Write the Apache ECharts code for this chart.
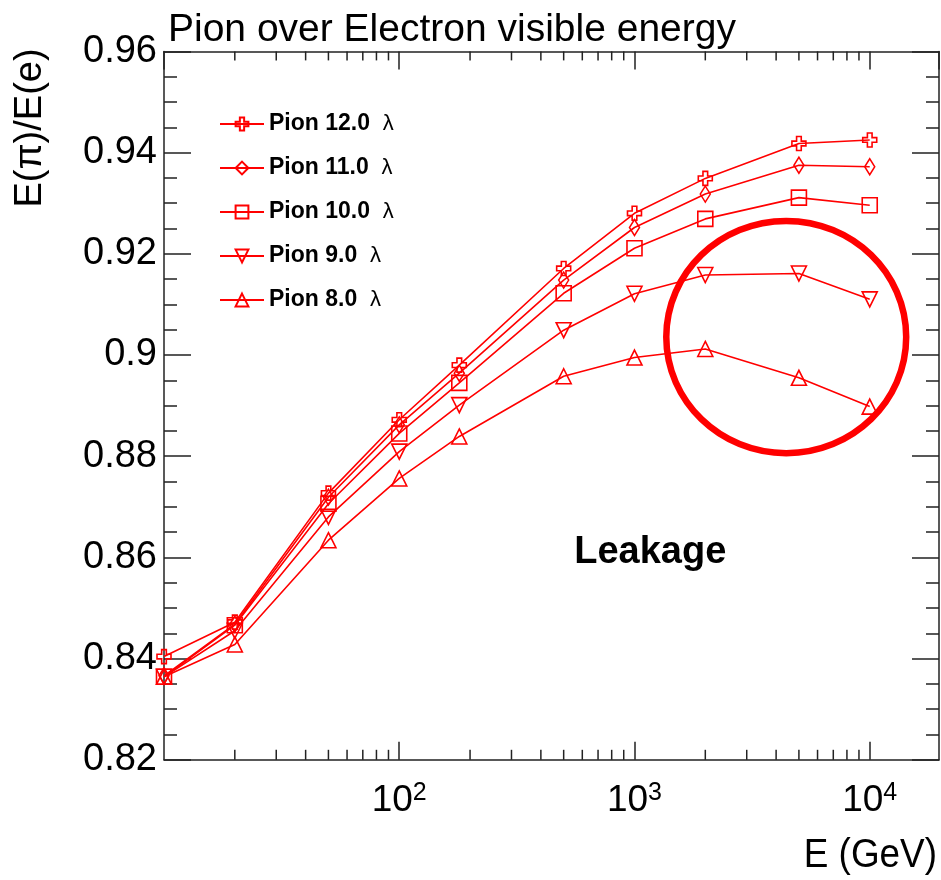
<!DOCTYPE html>
<html>
<head>
<meta charset="utf-8">
<script src="https://cdn.jsdelivr.net/npm/echarts@6/dist/echarts.min.js"></script>
<style>
html,body{margin:0;padding:0;background:#fff;}
#c{width:941px;height:880px;}
</style>
</head>
<body>
<div id="c"></div>
<script>
// ---- data ----
var energies = [10, 20, 50, 100, 180, 500, 1000, 2000, 5000, 10000];
var pion12 = [0.8404, 0.8472, 0.8727, 0.8872, 0.8980, 0.9171, 0.9280, 0.9349, 0.9418, 0.9425];
var pion11 = [0.8366, 0.8468, 0.8719, 0.8862, 0.8964, 0.9148, 0.9252, 0.9318, 0.9375, 0.9372];
var pion10 = [0.8364, 0.8466, 0.8706, 0.8845, 0.8945, 0.9122, 0.9211, 0.9269, 0.9311, 0.9296];
var pion9  = [0.8364, 0.8455, 0.8680, 0.8809, 0.8901, 0.9049, 0.9121, 0.9158, 0.9161, 0.9110];
var pion8  = [0.8364, 0.8428, 0.8634, 0.8756, 0.8839, 0.8958, 0.8995, 0.9012, 0.8955, 0.8898];
var seriesNames = ['Pion 12.0 λ', 'Pion 11.0 λ', 'Pion 10.0 λ', 'Pion 9.0 λ', 'Pion 8.0 λ'];
var minorXTicks = [20,30,40,50,60,70,80,90,200,300,400,500,600,700,800,900,2000,3000,4000,5000,6000,7000,8000,9000];

var RED = '#ff0000';
var FONT = 'Liberation Sans, Arial, Helvetica, sans-serif';
var xMin = 10, xMax = 19700, yMin = 0.82, yMax = 0.96;

function pairs(ys) { return energies.map(function (e, i) { return [e, ys[i]]; }); }

var crossPath = 'path://M4,0 H8 V4 H12 V8 H8 V12 H4 V8 H0 V4 H4 Z';
var symbols = [
  {symbol: crossPath, size: 14, rotate: 0},
  {symbol: 'diamond', size: [10, 16], rotate: 0},
  {symbol: 'rect', size: 15, rotate: 0},
  {symbol: 'triangle', size: 15, rotate: 180},
  {symbol: 'triangle', size: 15, rotate: 0}
];
var allData = [pion12, pion11, pion10, pion9, pion8];

var series = allData.map(function (d, i) {
  return {
    name: seriesNames[i],
    type: 'line',
    data: pairs(d),
    symbol: symbols[i].symbol,
    symbolSize: symbols[i].size,
    symbolRotate: symbols[i].rotate,
    showSymbol: true,
    lineStyle: {color: RED, width: 1.6},
    itemStyle: {color: 'rgba(255,255,255,0)', borderColor: RED, borderWidth: 1.6},
    emphasis: {disabled: true},
    animation: false,
    z: 3
  };
});

// minor log ticks on bottom and top frame
series.push({
  type: 'custom',
  silent: true,
  animation: false,
  data: minorXTicks.map(function (v) { return [v, yMin]; }),
  renderItem: function (params, api) {
    var v = api.value(0);
    var b = api.coord([v, yMin]);
    var t = api.coord([v, yMax]);
    var st = {stroke: '#222', lineWidth: 1.5};
    return {
      type: 'group',
      children: [
        {type: 'line', shape: {x1: b[0], y1: b[1], x2: b[0], y2: b[1] - 10}, style: st},
        {type: 'line', shape: {x1: t[0], y1: t[1], x2: t[0], y2: t[1] + 9}, style: st}
      ]
    };
  },
  z: 2
});

var axisLine = {show: true, lineStyle: {color: '#222', width: 1.5}};

var option = {
  backgroundColor: '#fff',
  animation: false,
  title: {
    text: 'Pion over Electron visible energy',
    left: 163, top: 6,
    textStyle: {fontFamily: FONT, fontSize: 39, fontWeight: 'normal', color: '#000'}
  },
  legend: {
    data: seriesNames,
    orient: 'vertical',
    left: 214, top: 107,
    itemWidth: 44, itemHeight: 16,
    itemGap: 20,
    formatter: function (name) {
      var p = name.split(' λ');
      return '{b|' + p[0] + '}  {l|λ}';
    },
    textStyle: {
      fontFamily: FONT, fontSize: 23, fontWeight: 'bold', color: '#000', lineHeight: 24,
      rich: {
        b: {fontFamily: FONT, fontSize: 23, fontWeight: 'bold', color: '#000', lineHeight: 24},
        l: {fontFamily: FONT, fontSize: 22, fontWeight: 'normal', color: '#000', lineHeight: 24}
      }
    },
    selectedMode: false
  },
  grid: {left: 164, right: 2, top: 51.4, bottom: 120.2, containLabel: false},
  xAxis: [{
    type: 'log', logBase: 10, min: xMin, max: xMax,
    axisLine: axisLine,
    axisTick: {show: true, inside: true, length: 18, lineStyle: {color: '#222', width: 1.5}},
    splitLine: {show: false},
    axisLabel: {
      margin: 21,
      showMaxLabel: false, showMinLabel: false,
      formatter: function (v) {
        var e = Math.round(Math.log(v) / Math.LN10);
        if (Math.abs(v - Math.pow(10, e)) > 1e-6 * v || e < 2) return '';
        return '{b|10}{s|' + e + '}';
      },
      rich: {
        b: {fontFamily: FONT, fontSize: 37, color: '#000', lineHeight: 40},
        s: {fontFamily: FONT, fontSize: 25, color: '#000', lineHeight: 25, verticalAlign: 'top'}
      }
    }
  }, {
    type: 'log', logBase: 10, min: xMin, max: xMax, position: 'top',
    axisLine: axisLine,
    axisTick: {show: true, inside: true, length: 18, lineStyle: {color: '#222', width: 1.5}},
    axisLabel: {show: false},
    splitLine: {show: false}
  }],
  yAxis: [{
    type: 'value', min: yMin, max: yMax, interval: 0.02,
    axisLine: axisLine,
    axisTick: {show: true, inside: true, length: 27, lineStyle: {color: '#222', width: 1.5}},
    minorTick: {show: true, splitNumber: 4, length: 13, lineStyle: {color: '#222', width: 1.5}},
    splitLine: {show: false},
    axisLabel: {
      margin: 7, fontFamily: FONT, fontSize: 38, color: '#000',
      formatter: function (v) {
        var r = Math.round(v * 100) / 100;
        return String(r);
      }
    }
  }, {
    type: 'value', min: yMin, max: yMax, interval: 0.02, position: 'right',
    axisLine: axisLine,
    axisTick: {show: true, inside: true, length: 27, lineStyle: {color: '#222', width: 1.5}},
    minorTick: {show: true, splitNumber: 4, length: 13, lineStyle: {color: '#222', width: 1.5}},
    splitLine: {show: false},
    axisLabel: {show: false}
  }],
  series: series
};

var chart = echarts.init(document.getElementById('c'), null, {renderer: 'canvas'});
chart.setOption(option);

// annotations positioned in data space
var ellLeft = 1365, ellRight = 14290, ellTop = 0.9265, ellBottom = 0.8806;
var leakX = 1167, leakY = 0.8609;
var pLT = chart.convertToPixel({gridIndex: 0}, [ellLeft, ellTop]);
var pRB = chart.convertToPixel({gridIndex: 0}, [ellRight, ellBottom]);
var pLk = chart.convertToPixel({gridIndex: 0}, [leakX, leakY]);

chart.setOption({
  graphic: [
    {
      type: 'ellipse', silent: true, z: 10,
      shape: {cx: (pLT[0] + pRB[0]) / 2, cy: (pLT[1] + pRB[1]) / 2, rx: (pRB[0] - pLT[0]) / 2, ry: (pRB[1] - pLT[1]) / 2},
      style: {fill: null, stroke: RED, lineWidth: 6.5}
    },
    {
      type: 'text', silent: true, z: 10,
      x: pLk[0], y: pLk[1],
      style: {text: 'Leakage', fontFamily: FONT, fontSize: 38, fontWeight: 'bold', fill: '#000', align: 'center', verticalAlign: 'middle'}
    },
    {
      type: 'text', silent: true, z: 10,
      x: 31, y: 128, rotation: Math.PI / 2,
      style: {text: 'E(π)/E(e)', fontFamily: FONT, fontSize: 38, fill: '#000', align: 'center', verticalAlign: 'middle'}
    },
    {
      type: 'text', silent: true, z: 10,
      x: 937, y: 856, scaleX: 0.9,
      style: {text: 'E (GeV)', fontFamily: FONT, fontSize: 41, fill: '#000', align: 'right', verticalAlign: 'middle'}
    }
  ]
});
</script>
</body>
</html>
